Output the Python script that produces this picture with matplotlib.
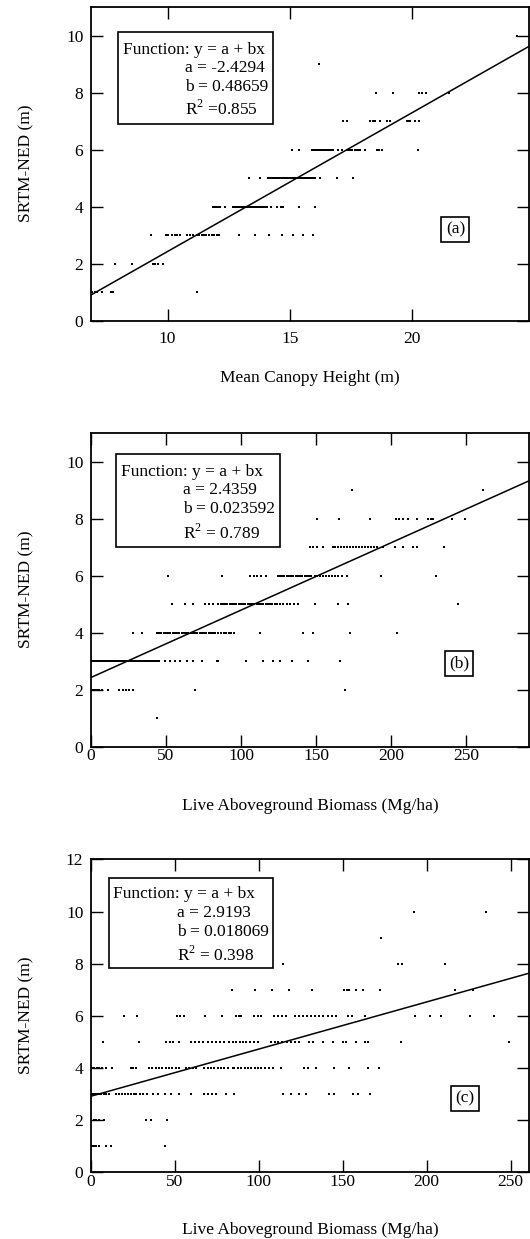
import numpy as np
import matplotlib
matplotlib.use("Agg")
import matplotlib.pyplot as plt
from matplotlib.patches import Rectangle

plt.rcParams["font.family"] = ["Liberation Serif", "DejaVu Serif"]
plt.rcParams["mathtext.fontset"] = "custom"
plt.rcParams["mathtext.rm"] = "Liberation Serif"

# -----------------------------
# Data (x values grouped by SRTM-NED level)
# -----------------------------

canopy_pts = {
    1: [6.93, 7.05, 7.12, 7.30, 7.67, 7.78, 11.19],
    2: [7.87, 8.53, 9.41, 9.50, 9.59, 9.80],
    3: [9.31, 9.93, 10.03, 10.16, 10.30, 10.40, 10.50, 10.80, 10.91, 11.05,
        11.19, 11.29, 11.39, 11.48, 11.59, 11.70, 11.80, 11.89, 12.00, 12.11,
        12.92, 13.57, 14.16, 14.66, 15.14, 15.55, 15.95],
    4: [11.87, 11.95, 12.00, 12.07, 12.14, 12.34, 12.68, 12.75, 12.82, 12.89,
        12.96, 13.03, 13.09, 13.16, 13.23, 13.30, 13.37, 13.43, 13.50, 13.57,
        13.64, 13.70, 13.77, 13.84, 13.91, 13.98, 14.05, 14.21, 14.48, 14.62,
        14.73, 15.38, 16.02],
    5: [13.34, 13.77, 14.11, 14.18, 14.25, 14.32, 14.39, 14.45, 14.52, 14.59,
        14.66, 14.73, 14.80, 14.86, 14.93, 15.00, 15.07, 15.14, 15.20, 15.27,
        15.34, 15.41, 15.48, 15.55, 15.61, 15.68, 15.75, 15.82, 15.89, 15.95,
        16.02, 16.23, 16.91, 17.59],
    6: [15.07, 15.38, 15.89, 15.96, 16.02, 16.09, 16.16, 16.23, 16.30, 16.36,
        16.43, 16.50, 16.57, 16.63, 16.70, 16.77, 16.98, 17.11, 17.32, 17.40,
        17.45, 17.52, 17.66, 17.73, 17.80, 17.86, 18.07, 18.54, 18.62, 18.75,
        20.25],
    7: [17.18, 17.32, 18.27, 18.40, 18.47, 18.68, 18.95, 19.09, 19.77, 19.84,
        19.90, 20.11, 20.29],
    8: [18.52, 19.20, 20.29, 20.40, 20.55, 21.51],
    9: [16.20],
    10: [24.30],
}

biomass_b_pts = {
    1: [44.2],
    2: [0.5, 1.1, 2.0, 3.0, 4.0, 5.0, 7.3, 11.6, 18.9, 21.1, 23.3, 25.6, 28.2,
        69.6, 169.3],
    3: [0.5, 1.5, 2.5, 3.5, 4.5, 5.5, 6.5, 7.5, 8.5, 9.5, 10.5, 11.5, 12.5,
        13.5, 14.5, 15.5, 16.5, 17.5, 18.5, 19.5, 20.5, 21.5, 22.5, 23.5, 24.5,
        25.5, 26.5, 27.5, 28.5, 29.5, 30.5, 31.5, 32.5, 33.5, 34.5, 35.5, 36.5,
        37.5, 38.5, 39.5, 40.5, 41.5, 42.5, 43.5, 44.5, 45.5, 49.3, 52.7, 56.0,
        59.3, 63.8, 68.2, 73.8, 83.8, 85.0, 103.3, 114.9, 121.1, 126.0, 133.8,
        144.9, 166.0],
    4: [27.8, 33.8, 44.2, 45.5, 47.0, 48.5, 50.0, 51.5, 53.0, 54.5, 56.0, 57.5,
        59.0, 60.5, 62.0, 63.5, 65.0, 66.5, 68.0, 69.5, 71.0, 72.5, 74.0, 75.5,
        77.0, 78.5, 80.0, 81.5, 83.0, 84.9, 87.0, 88.5, 90.0, 92.0, 93.5, 95.3,
        112.7, 141.6, 148.2, 172.7, 203.8],
    5: [53.8, 62.7, 68.2, 76.0, 79.0, 81.6, 84.9, 86.4, 88.0, 89.5, 91.0, 92.5,
        94.0, 95.5, 97.0, 98.5, 100.0, 101.5, 103.0, 104.5, 106.0, 107.5, 109.0,
        110.5, 112.0, 113.5, 115.0, 116.5, 118.0, 119.5, 121.0, 122.5, 124.0,
        126.0, 128.2, 130.5, 133.0, 135.5, 138.2, 149.3, 164.9, 171.6, 244.4],
    6: [51.6, 87.1, 106.0, 108.5, 111.0, 113.5, 117.0, 124.4, 126.0, 127.5,
        129.0, 130.5, 132.0, 133.5, 135.0, 136.5, 138.0, 139.5, 141.0, 142.5,
        144.0, 145.5, 147.0, 149.3, 151.0, 153.0, 155.0, 157.0, 159.0, 161.0,
        163.0, 165.0, 167.5, 170.4, 193.3, 229.8],
    7: [146.0, 148.0, 151.0, 155.0, 161.6, 163.0, 165.0, 167.0, 169.0, 171.0,
        173.0, 175.0, 177.0, 179.0, 181.0, 183.0, 185.0, 187.0, 189.0, 191.0,
        194.9, 202.7, 208.2, 214.9, 217.6, 235.6],
    8: [150.4, 165.6, 186.0, 203.3, 205.5, 208.0, 211.6, 217.1, 224.9, 226.5,
        228.2, 240.4, 249.3],
    9: [173.8, 261.6],
}

biomass_c_pts = {
    1: [0.5, 1.5, 3.0, 4.8, 8.9, 11.8, 44.2],
    2: [1.8, 3.0, 4.5, 7.8, 32.7, 35.7, 45.2],
    3: [0.5, 1.5, 2.5, 3.5, 4.5, 6.0, 7.5, 9.0, 10.8, 14.8, 16.5, 18.5, 20.0,
        22.0, 24.0, 25.5, 27.0, 29.0, 30.7, 33.5, 37.0, 40.0, 44.0, 47.5, 52.6,
        59.5, 67.5, 69.5, 72.0, 74.5, 80.4, 85.0, 114.2, 119.2, 124.2, 128.1,
        142.1, 145.0, 156.0, 159.0, 166.0],
    4: [0.5, 2.0, 3.5, 5.0, 6.5, 8.8, 12.8, 23.7, 25.2, 26.7, 34.7, 36.5, 38.5,
        40.5, 42.5, 44.5, 46.5, 48.5, 50.5, 52.6, 56.6, 58.5, 60.5, 62.5, 67.5,
        69.5, 71.5, 73.5, 75.5, 77.5, 79.5, 81.5, 84.4, 85.4, 87.5, 89.5, 91.5,
        93.5, 95.5, 97.5, 99.5, 101.5, 103.5, 106.3, 108.3, 113.2, 127.1, 129.5,
        134.1, 145.0, 153.6, 165.0, 171.5],
    5: [7.2, 28.7, 44.6, 47.0, 49.0, 52.6, 59.5, 62.0, 64.5, 67.0, 69.5, 72.0,
        74.5, 77.0, 79.5, 82.0, 84.4, 86.4, 88.5, 90.5, 92.5, 95.0, 97.0, 99.3,
        107.3, 109.5, 111.5, 114.0, 116.5, 119.0, 121.5, 124.2, 130.1, 132.1,
        138.1, 144.0, 150.0, 152.0, 158.0, 163.0, 165.0, 184.8, 248.9],
    6: [19.8, 27.7, 51.2, 53.3, 55.5, 68.1, 78.0, 86.4, 87.9, 89.4, 97.3, 99.3,
        101.3, 109.2, 111.5, 113.8, 116.2, 121.8, 124.0, 126.5, 129.0, 131.0,
        133.5, 136.0, 138.5, 141.0, 143.5, 146.0, 153.0, 155.6, 163.0, 192.8,
        202.3, 208.7, 225.6, 240.1],
    7: [83.8, 97.9, 107.9, 118.2, 131.7, 151.0, 152.5, 154.0, 158.0, 162.0,
        172.0, 216.7, 227.6],
    8: [114.2, 182.8, 185.4, 211.1],
    9: [173.1],
    10: [192.4, 235.2],
}

fit_a = [-2.4294, 2.4359, 2.9193]
fit_b = [0.48659, 0.023592, 0.018069]
fit_a_text = ["a = -2.4294", "a = 2.4359", "a = 2.9193"]
fit_b_text = ["b = 0.48659", "b = 0.023592", "b = 0.018069"]
fit_r2_text = [r"R$^{\mathrm{2}}$ =0.855", r"R$^{\mathrm{2}}$ = 0.789",
               r"R$^{\mathrm{2}}$ = 0.398"]

x_labels = ["Mean Canopy Height (m)", "Live Aboveground Biomass (Mg/ha)",
            "Live Aboveground Biomass (Mg/ha)"]
panel_tags = ["(a)", "(b)", "(c)"]
x_limits = [(6.87, 24.77), (0, 292), (0, 261)]
y_limits = [(0, 11), (0, 11), (0, 12)]
x_ticks = [[10, 15, 20], [0, 50, 100, 150, 200, 250], [0, 50, 100, 150, 200, 250]]
y_ticks = [[0, 2, 4, 6, 8, 10], [0, 2, 4, 6, 8, 10], [0, 2, 4, 6, 8, 10, 12]]

# -----------------------------
# Layout
# -----------------------------

axes_rects = [
    [0.1717, 0.7409, 0.8264, 0.2534],
    [0.1717, 0.3971, 0.8264, 0.2534],
    [0.1717, 0.0538, 0.8264, 0.2526],
]
x_tick_pad = [7.0, 0.5, 1.0]
box_rect = [(0.061, 0.627, 0.355, 0.292), (0.057, 0.638, 0.375, 0.294),
            (0.042, 0.652, 0.374, 0.289)]
box_text_x = [(0.072, 0.2146), (0.0685, 0.2107), (0.051, 0.1957)]
box_text_y = [(0.849, 0.792, 0.7325, 0.656), (0.864, 0.806, 0.744, 0.665),
              (0.875, 0.815, 0.755, 0.676)]
tag_xy = [(0.832, 0.292), (0.840, 0.265), (0.853, 0.235)]
xlabel_y = [-0.1815, -0.188, -0.184]

fig = plt.figure(figsize=(5.30, 12.39), dpi=100)

datasets = [canopy_pts, biomass_b_pts, biomass_c_pts]

for i, pts in enumerate(datasets):
    ax = fig.add_axes(axes_rects[i])

    for level, xs in pts.items():
        ax.plot(xs, [level] * len(xs), "s", ms=1.7, mew=0, color="black")

    xl = np.array(x_limits[i])
    ax.plot(xl, fit_a[i] + fit_b[i] * xl, color="black", lw=1.1)

    ax.set_xlim(*x_limits[i])
    ax.set_ylim(*y_limits[i])
    ax.set_xticks(x_ticks[i])
    ax.set_yticks(y_ticks[i])
    ax.tick_params(direction="in", length=8.5, width=1.0, labelsize=12.5,
                   top=True, right=True)
    ax.tick_params(axis="x", pad=x_tick_pad[i])
    ax.tick_params(axis="y", pad=5.5)
    for sp in ax.spines.values():
        sp.set_linewidth(1.3)

    ax.text(0.5, xlabel_y[i], x_labels[i], transform=ax.transAxes,
            ha="center", va="center", fontsize=12.5)
    ax.text(-0.148, 0.502, "SRTM-NED (m)", transform=ax.transAxes,
            ha="center", va="center", rotation=90, fontsize=12.5)

    bx, by, bw, bh = box_rect[i]
    ax.add_patch(Rectangle((bx, by), bw, bh, transform=ax.transAxes,
                           fill=False, lw=1.2, ec="black", zorder=5))
    tx0, tx1 = box_text_x[i]
    ty = box_text_y[i]
    ax.text(tx0, ty[0], "Function: y = a + bx", transform=ax.transAxes,
            fontsize=12.5, va="baseline")
    ax.text(tx1, ty[1], fit_a_text[i], transform=ax.transAxes,
            fontsize=12.5, va="baseline")
    ax.text(tx1, ty[2], fit_b_text[i], transform=ax.transAxes,
            fontsize=12.5, va="baseline")
    ax.text(tx1, ty[3], fit_r2_text[i], transform=ax.transAxes,
            fontsize=12.5, va="baseline")

    ax.text(tag_xy[i][0], tag_xy[i][1], panel_tags[i], transform=ax.transAxes,
            ha="center", va="center", fontsize=12.5,
            bbox=dict(boxstyle="square,pad=0.25", fc="white", ec="black",
                      lw=1.2))

fig.savefig("out.png", dpi=100)
